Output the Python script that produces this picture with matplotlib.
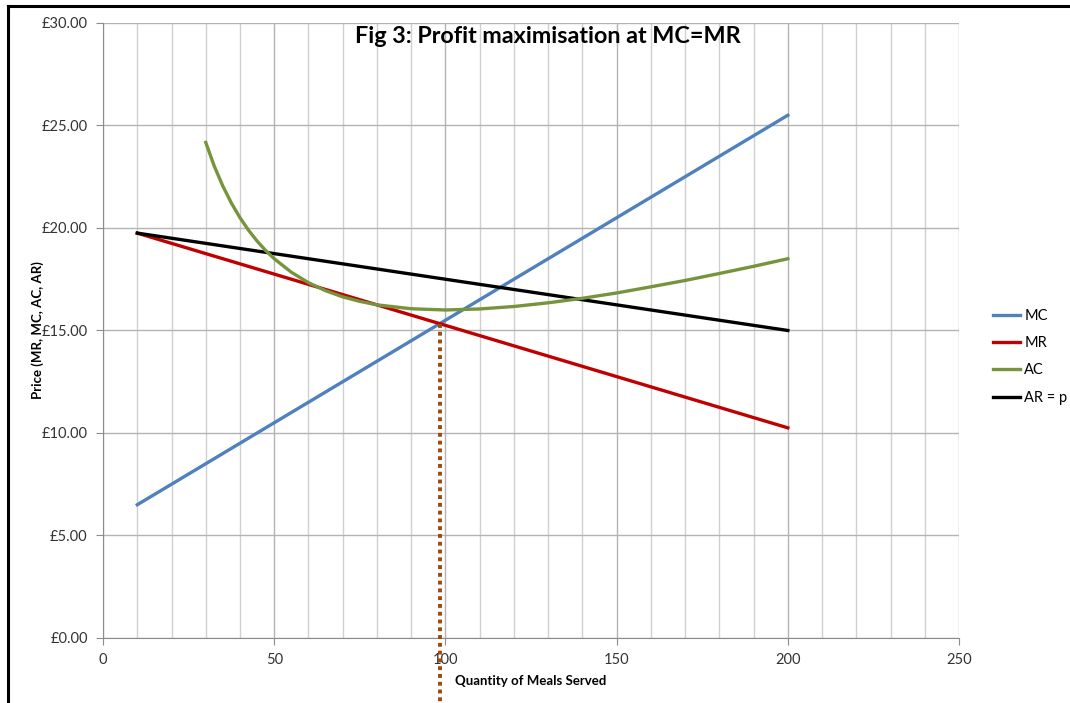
import numpy as np
import matplotlib
matplotlib.use("Agg")
import matplotlib.pyplot as plt
from matplotlib.lines import Line2D
from matplotlib.ticker import FuncFormatter, MultipleLocator

plt.rcParams['font.family'] = ['Lato', 'DejaVu Sans']

# values
q_lines = [10, 50, 100, 150, 200]
mc = [6.5, 10.5, 15.5, 20.5, 25.5]
mr = [19.75, 17.75, 15.25, 12.75, 10.25]
ar = [19.75, 18.75, 17.5, 16.25, 15.0]

q_ac = [30, 32.5, 35, 37.5, 40, 42.5, 45, 47.5, 50, 55, 60, 65, 70, 75, 80,
        90, 100, 110, 120, 130, 140, 150, 160, 170, 180, 190, 200]
ac = [24.17, 23.01, 22.04, 21.21, 20.5, 19.89, 19.36, 18.9, 18.5, 17.84, 17.33,
      16.94, 16.64, 16.42, 16.25, 16.06, 16.0, 16.05, 16.17, 16.35, 16.57,
      16.83, 17.13, 17.44, 17.78, 18.13, 18.5]

q_star = 98.3       # MC = MR
p_star = 15.33

fig = plt.figure(figsize=(10.7, 7.03), dpi=100)
ax = fig.add_axes([0.0963, 0.0925, 0.80, 0.8748])

ax.plot(q_lines, mc, color='#4F81BD', lw=2.4, label='MC', zorder=3)
ax.plot(q_lines, mr, color='#C00000', lw=2.4, label='MR', zorder=3)
ax.plot(q_ac, ac, color='#77933C', lw=2.4, label='AC', zorder=4,
        solid_joinstyle='round')
ax.plot(q_lines, ar, color='black', lw=2.4, label='AR = p', zorder=3)

# dotted drop line from the MC=MR point down past the axis
ax.plot([q_star, q_star], [p_star, -3.5], color='#9C4A0C', lw=2.8,
        linestyle=(0, (1.0, 1.0)), dash_capstyle='butt', clip_on=False,
        zorder=5)

ax.set_xlim(0, 250)
ax.set_ylim(0, 30)
ax.xaxis.set_major_locator(MultipleLocator(50))
ax.xaxis.set_minor_locator(MultipleLocator(10))
ax.yaxis.set_major_locator(MultipleLocator(5))
ax.yaxis.set_major_formatter(FuncFormatter(lambda v, p: f'£{v:.2f}'))

ax.grid(True, which='major', color='#B3B3B3', lw=1)
ax.grid(True, which='minor', axis='x', color='#D0D0D0', lw=1)
ax.set_axisbelow(True)

for s in ['top', 'right']:
    ax.spines[s].set_visible(False)
for s in ['left', 'bottom']:
    ax.spines[s].set_color('#8C8C8C')
ax.tick_params(which='major', length=5, color='#8C8C8C', labelsize=10.5,
               labelcolor='#333333', pad=6)
ax.tick_params(which='minor', length=0)

ax.set_xlabel('Quantity of Meals Served', fontsize=9.5, fontweight='bold')
ax.set_ylabel('Price (MR, MC, AC, AR)', fontsize=9.5, fontweight='bold')
ax.xaxis.set_label_coords(0.5, -0.06)
ax.yaxis.set_label_coords(-0.069, 0.5)

fig.text(0.512, 0.948, 'Fig 3: Profit maximisation at MC=MR', ha='center',
         va='center', fontsize=16.8, fontweight='bold')

ax.legend(loc='center left', bbox_to_anchor=(1.0397, 0.457), frameon=False,
          fontsize=10.5, handlelength=1.85, handletextpad=0.3, labelspacing=0.9,
          borderaxespad=0, borderpad=0)

# frame lines of the original sheet
fig.add_artist(Line2D([0.0075, 0.0075], [0, 0.992], transform=fig.transFigure,
                      color='black', lw=2.2))
fig.add_artist(Line2D([0.0075, 1.0], [0.992, 0.992], transform=fig.transFigure,
                      color='black', lw=2.2))

fig.savefig('out.png', dpi=100)
